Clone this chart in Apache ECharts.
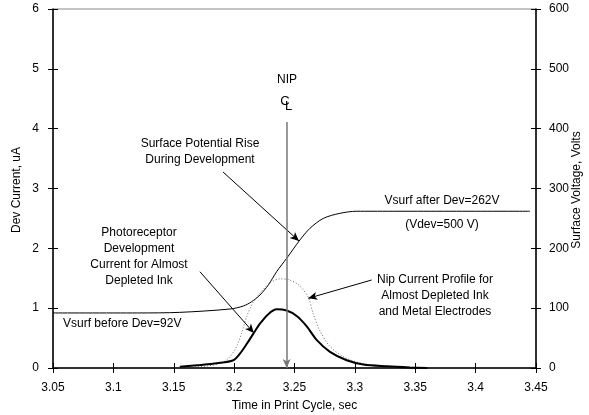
<!DOCTYPE html>
<html><head><meta charset="utf-8">
<script src="https://cdn.jsdelivr.net/npm/echarts@6/dist/echarts.min.js"></script>
<style>html,body{margin:0;padding:0;background:#fff;overflow:hidden;width:589px;height:415px}#c{position:absolute;left:0;top:0;width:589px;height:415px}</style>
</head><body><div id="c"></div>
<script>
// Surface voltage (right axis, Volts)
const vsurfT = [3.05, 3.12, 3.155, 3.1966, 3.2076, 3.2145, 3.2214, 3.2283, 3.2352, 3.2435, 3.2545, 3.2628, 3.2738, 3.2876, 3.3015, 3.315, 3.445];
const vsurfV = [92, 92, 93, 98.6, 103.6, 110.8, 122, 138.7, 161, 183.3, 214, 233.5, 250, 258.5, 262, 262, 262];
// Photoreceptor development current (left axis, uA)
const devT = [3.155, 3.1717, 3.1856, 3.1993, 3.2048, 3.2104, 3.2158, 3.2214, 3.2283, 3.2352, 3.2435, 3.2518, 3.26, 3.2683, 3.2794, 3.2932, 3.307, 3.3263, 3.3456, 3.36];
const devI = [0.02, 0.05, 0.08, 0.13, 0.24, 0.40, 0.57, 0.74, 0.90, 0.98, 0.96, 0.87, 0.70, 0.47, 0.27, 0.13, 0.06, 0.03, 0.01, 0.0];
// Nip current profile (left axis, uA)
const nipT = [3.1676, 3.18, 3.191, 3.1966, 3.2021, 3.2062, 3.2104, 3.2158, 3.2214, 3.2297, 3.238, 3.2462, 3.2545, 3.2614, 3.2656, 3.2711, 3.2794, 3.2904, 3.3015, 3.3152, 3.3373];
const nipI = [0.02, 0.04, 0.10, 0.19, 0.36, 0.58, 0.86, 1.10, 1.25, 1.42, 1.49, 1.47, 1.37, 1.18, 0.90, 0.62, 0.36, 0.19, 0.10, 0.05, 0.02];

const leftTicks = [0, 1, 2, 3, 4, 5, 6];
const rightTicks = [0, 100, 200, 300, 400, 500, 600];

const zip = (a, b) => a.map((v, i) => [v, b[i]]);
const FONT = 'Liberation Sans, Arial, sans-serif';
const chart = echarts.init(document.getElementById('c'), null, {width: 589, height: 415});
const arrowLine = (from, to) => [{coord: from, symbol: 'none'}, {coord: to, symbol: 'arrow', symbolSize: [6, 9]}];

const txt = (x, y, s, align, size) => ({type: 'text', x: x, y: y, style: {text: s, font: (size || 12) + 'px ' + FONT, fill: '#000', textAlign: align || 'center', textVerticalAlign: 'middle'}});
const vtxt = (x, y, s) => ({type: 'text', x: x, y: y, rotation: Math.PI / 2, style: {text: s, font: '12px ' + FONT, fill: '#000', textAlign: 'center', textVerticalAlign: 'middle'}});

chart.setOption({
  animation: false,
  grid: {left: 53, right: 53, top: 9, bottom: 47, show: true, borderColor: '#888', borderWidth: 1, containLabel: false, outerBoundsMode: 'none'},
  xAxis: [{
    type: 'value', min: 3.05, max: 3.45, interval: 0.05,
    name: 'Time in Print Cycle, sec', nameLocation: 'middle', nameGap: 32,
    nameTextStyle: {fontFamily: FONT, fontSize: 12, color: '#000'},
    axisLine: {lineStyle: {color: '#000', width: 1.5}},
    axisTick: {inside: false, length: 5, lineStyle: {color: '#000'}},
    axisLabel: {margin: 14, fontFamily: FONT, fontSize: 12, color: '#000', formatter: v => String(+v.toFixed(2))},
    splitLine: {show: false}
  }, {
    type: 'value', min: 3.05, max: 3.45, interval: 0.05, position: 'bottom',
    axisLine: {show: false}, axisTick: {inside: true, length: 5, lineStyle: {color: '#000'}},
    axisLabel: {show: false}, splitLine: {show: false}
  }],
  yAxis: [{
    type: 'value', min: 0, max: 6, interval: 1, position: 'left',
    axisLine: {show: true, lineStyle: {color: '#000', width: 1.5}},
    axisTick: {show: true, length: 5, lineStyle: {color: '#000'}},
    axisLabel: {margin: 14, fontFamily: FONT, fontSize: 12, color: '#000', formatter: v => String(leftTicks[Math.round(v)])},
    splitLine: {show: false}
  }, {
    type: 'value', min: 0, max: 600, interval: 100, position: 'right',
    axisLine: {show: true, lineStyle: {color: '#000', width: 1.5}},
    axisTick: {show: true, length: 5, lineStyle: {color: '#000'}},
    axisLabel: {margin: 13, fontFamily: FONT, fontSize: 12, color: '#000', formatter: v => String(rightTicks[Math.round(v / 100)])},
    splitLine: {show: false}
  }, {
    type: 'value', min: 0, max: 6, interval: 1, position: 'left',
    axisLine: {show: false}, axisTick: {show: true, inside: true, length: 5, lineStyle: {color: '#000'}},
    axisLabel: {show: false}, splitLine: {show: false}
  }, {
    type: 'value', min: 0, max: 600, interval: 100, position: 'right',
    axisLine: {show: false}, axisTick: {show: true, inside: true, length: 5, lineStyle: {color: '#000'}},
    axisLabel: {show: false}, splitLine: {show: false}
  }],
  series: [{
    type: 'line', yAxisIndex: 1, data: zip(vsurfT, vsurfV), smooth: 0.3, showSymbol: false,
    lineStyle: {color: '#000', width: 1}
  }, {
    type: 'line', yAxisIndex: 0, data: zip(nipT, nipI), smooth: 0.3, showSymbol: false,
    lineStyle: {color: '#666', width: 1, type: [1, 2]}
  }, {
    type: 'line', yAxisIndex: 0, data: zip(devT, devI), smooth: 0.3, showSymbol: false,
    lineStyle: {color: '#000', width: 2},
    markLine: {
      silent: true, animation: false, label: {show: false},
      lineStyle: {color: '#000', width: 1, type: 'solid'},
      data: [
        arrowLine([3.1908, 3.276], [3.2537, 2.123]),
        arrowLine([3.1717, 1.609], [3.2164, 0.585]),
        arrowLine([3.3139, 1.471], [3.2614, 1.165])
      ]
    }
  }, {
    type: 'line', yAxisIndex: 0, data: [],
    markLine: {
      silent: true, animation: false, label: {show: false},
      lineStyle: {color: '#777', width: 1.5, type: 'solid'},
      data: [arrowLine([3.2435, 4.11], [3.2435, 0])]
    }
  }],
  graphic: [
    vtxt(17, 190, 'Dev Current, uA'),
    vtxt(577, 190, 'Surface Voltage, Volts'),
    txt(287, 80, 'NIP'),
    txt(285, 101, 'C', 'center', 13),
    txt(288.5, 106, 'L', 'center', 13),
    txt(200, 144, 'Surface Potential Rise'),
    txt(200, 160, 'During Development'),
    txt(139, 233, 'Photoreceptor'),
    txt(139, 249, 'Development'),
    txt(139, 265, 'Current for Almost'),
    txt(139, 281, 'Depleted Ink'),
    txt(63, 324, 'Vsurf before Dev=92V', 'left'),
    txt(442, 201, 'Vsurf after Dev=262V'),
    txt(442, 225, '(Vdev=500 V)'),
    txt(435, 280, 'Nip Current Profile for'),
    txt(435, 296, 'Almost Depleted Ink'),
    txt(435, 312, 'and Metal Electrodes')
  ]
});
</script></body></html>
